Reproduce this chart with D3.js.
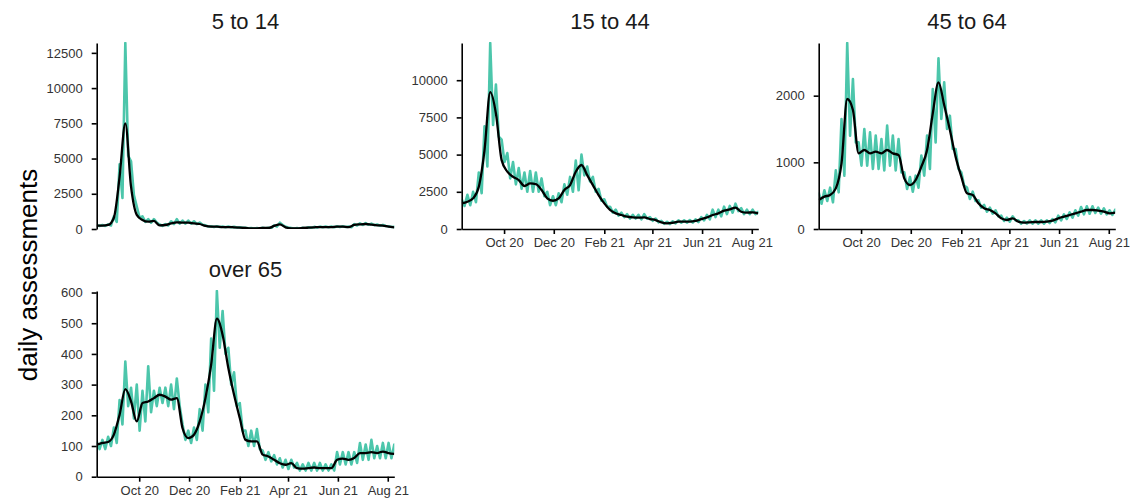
<!DOCTYPE html>
<html>
<head>
<meta charset="utf-8">
<script src="https://cdn.jsdelivr.net/npm/d3@7"></script>
<style>
  body { margin: 0; background: #fff; }
  svg text { font-family: "Liberation Sans", Arial, sans-serif; }
</style>
</head>
<body>
<svg width="1145" height="503"></svg>
<script>
// weekly points start 10 Aug 2020; daily series holds a weekday high and a mid-week low per week
var START = Date.UTC(2020, 7, 10);
var END = Date.UTC(2021, 7, 9);

var groups = ["5 to 14", "15 to 44", "45 to 64", "over 65"];

var daily_5_14 = [260,220, 280,220, 330,250, 900,500, 4600,2200, 13200,5200, 4800,2400, 1600,800,
    900,500, 700,450, 700,450, 320,220, 350,250, 550,350, 700,380, 600,380, 600,380, 550,350,
    450,300, 260,180, 200,140, 200,140, 170,120, 170,120, 150,100, 120,80, 90,50, 70,40, 70,40,
    90,55, 90,55, 260,170, 450,280, 150,100, 70,40, 70,40, 90,55, 120,80, 150,100, 170,120,
    170,120, 170,120, 200,140, 200,140, 170,120, 350,250, 400,290, 420,300, 380,270, 320,230,
    290,210, 200,140, 150,110];
var avg_5_14 = [240,240,285,800,3700,7500,3000,1000,640,520,570,260,285,400,475,450,450,400,355,215,
    165,165,140,140,120,95,70,50,50,70,70,215,330,120,50,50,70,95,120,140,140,140,165,165,140,285,
    330,355,310,260,240,165,120];

var daily_15_44 = [2000,1550, 2300,1600, 2500,1800, 3800,2400, 6900,4200, 12500,7000, 9700,6200,
    6000,4500, 5100,3400, 4500,3000, 4100,2700, 3800,2500, 3900,2500, 3800,2500, 3400,2200,
    2500,1600, 2200,1600, 2400,1800, 3000,2300, 3500,2500, 4600,2600, 5000,3600, 4200,3200,
    3500,2500, 2700,1900, 2000,1500, 1500,1100, 1300,900, 1100,800, 1000,700, 950,700, 950,650,
    1000,700, 800,550, 700,450, 550,350, 480,330, 520,380, 580,420, 580,420, 600,430, 650,460,
    800,580, 950,650, 1300,800, 1300,850, 1500,1000, 1550,1100, 1700,1200, 1400,1000, 1300,1000,
    1300,1000, 1150,1050];
var avg_15_44 = [1720,1830,2060,2840,5300,9200,7760,4630,3850,3510,3290,2890,3060,3020,2620,2060,
    1900,2060,2620,2950,3850,4300,3620,2950,2280,1720,1280,1050,940,830,780,760,780,670,600,450,
    380,420,490,490,490,540,670,780,940,1050,1230,1320,1430,1160,1100,1120,1050];

var daily_45_64 = [550,380, 580,420, 620,400, 880,550, 1650,800, 2790,1400, 2250,1300, 1300,950,
    1500,950, 1450,900, 1400,900, 1350,880, 1550,950, 1400,880, 1350,850, 850,600, 780,560,
    800,620, 1100,800, 1400,900, 2100,1300, 2560,1650, 2200,1500, 1700,1200, 1200,900, 850,650,
    620,450, 560,420, 430,320, 360,260, 320,230, 280,190, 200,120, 170,110, 190,130, 130,80,
    120,80, 130,80, 130,80, 130,80, 130,90, 150,100, 200,130, 220,150, 250,170, 280,200, 330,220,
    340,230, 340,240, 320,230, 310,220, 280,210, 290,220];
var avg_45_64 = [435,485,510,610,985,1950,1785,1135,1185,1135,1160,1135,1185,1135,1110,760,660,735,
    935,1185,1735,2200,1860,1485,1085,785,535,510,385,310,285,235,160,135,160,110,95,100,105,105,
    110,125,160,185,210,235,260,285,285,275,260,235,245];

var daily_over_65 = [115,90, 120,90, 130,100, 160,110, 250,170, 375,230, 290,190, 300,150, 280,180,
    360,210, 280,230, 290,240, 290,230, 300,220, 320,230, 170,120, 150,110, 160,120, 220,150,
    300,210, 450,280, 605,420, 540,400, 420,300, 340,230, 240,150, 150,100, 150,100, 155,90,
    85,55, 80,50, 70,40, 60,30, 55,25, 55,30, 45,20, 40,20, 45,20, 45,20, 45,20, 40,20, 40,20,
    80,40, 80,40, 80,40, 80,45, 110,55, 105,55, 120,60, 100,60, 110,60, 110,60, 105,60];
var avg_over_65 = [104,110,113,137,202,285,245,180,240,245,256,267,261,251,256,158,126,137,180,256,
    365,515,462,354,267,191,120,115,115,72,66,55,44,39,44,28,26,28,30,28,28,28,55,59,55,61,77,77,
    80,77,82,77,74];

var yTicks_5_14 = [0, 2500, 5000, 7500, 10000, 12500];
var yTicks_15_44 = [0, 2500, 5000, 7500, 10000];
var yTicks_45_64 = [0, 1000, 2000];
var yTicks_over_65 = [0, 100, 200, 300, 400, 500, 600];

var DAY = 86400000;
var TEAL = "#4cc6ab";

var svg = d3.select("svg");

// panel boxes: left, right, top, bottom, whether the x axis is drawn
var layout = [
    {left: 96.7, right: 394.3, top: 43, bottom: 229, xAxis: false},
    {left: 461.7, right: 758.3, top: 43, bottom: 229, xAxis: true},
    {left: 818.7, right: 1115.3, top: 43, bottom: 229, xAxis: true},
    {left: 96.7, right: 394.3, top: 291, bottom: 476.7, xAxis: true}
];
var series = [
    {daily: daily_5_14, avg: avg_5_14, ticks: yTicks_5_14},
    {daily: daily_15_44, avg: avg_15_44, ticks: yTicks_15_44},
    {daily: daily_45_64, avg: avg_45_64, ticks: yTicks_45_64},
    {daily: daily_over_65, avg: avg_over_65, ticks: yTicks_over_65}
];

var xTicks = d3.utcMonth.range(new Date(START), new Date(END))
    .filter(function(d) { return d.getUTCMonth() % 2 === 1; });

function styleAxis(g) {
    g.select(".domain").attr("stroke", "#000").attr("stroke-width", 1.6);
    g.selectAll(".tick line").attr("stroke", "#000").attr("stroke-width", 1.6);
    g.selectAll(".tick text").attr("fill", "#333").style("font-size", "13px");
}

function drawPanel(i) {
    var box = layout[i], s = series[i];
    var x = d3.scaleUtc().domain([new Date(START), new Date(END)]).range([box.left, box.right]);
    var y = d3.scaleLinear().domain([0, d3.max(s.daily)]).range([box.bottom, box.top]);

    svg.append("clipPath").attr("id", "clip" + i)
        .append("rect")
        .attr("x", box.left).attr("y", box.top - 1)
        .attr("width", box.right - box.left).attr("height", box.bottom - box.top + 1);

    var g = svg.append("g").attr("clip-path", "url(#clip" + i + ")");

    var dailyLine = d3.line()
        .x(function(d, k) { return x(new Date(START + k * 3.5 * DAY)); })
        .y(function(d) { return y(d); });
    var avgLine = d3.line()
        .curve(d3.curveMonotoneX)
        .x(function(d, k) { return x(new Date(START + k * 7 * DAY)); })
        .y(function(d) { return y(d); });

    g.append("path").datum(s.daily)
        .attr("fill", "none").attr("stroke", TEAL).attr("stroke-width", 2.6)
        .attr("stroke-linejoin", "round")
        .attr("d", dailyLine);
    g.append("path").datum(s.avg)
        .attr("fill", "none").attr("stroke", "#000").attr("stroke-width", 2.3)
        .attr("stroke-linejoin", "round")
        .attr("d", avgLine);

    var yAxis = svg.append("g")
        .attr("transform", "translate(" + box.left + ",0)")
        .call(d3.axisLeft(y).tickValues(s.ticks).tickFormat(d3.format("d"))
            .tickSize(5).tickPadding(9).tickSizeOuter(0));
    styleAxis(yAxis);

    if (box.xAxis) {
        var xAxis = svg.append("g")
            .attr("transform", "translate(0," + box.bottom + ")")
            .call(d3.axisBottom(x).tickValues(xTicks).tickFormat(d3.utcFormat("%b %y"))
                .tickSize(5).tickPadding(4).tickSizeOuter(0));
        styleAxis(xAxis);
    }

    svg.append("text")
        .attr("x", (box.left + box.right) / 2)
        .attr("y", box.top - 14)
        .attr("text-anchor", "middle")
        .attr("fill", "#1a1a1a")
        .style("font-size", "22px")
        .text(groups[i]);
}

for (var i = 0; i < groups.length; i++) {
    drawPanel(i);
}

svg.append("text")
    .attr("transform", "translate(37,275) rotate(-90)")
    .attr("text-anchor", "middle")
    .attr("fill", "#000")
    .style("font-size", "26px")
    .text("daily assessments");
</script>
</body>
</html>
